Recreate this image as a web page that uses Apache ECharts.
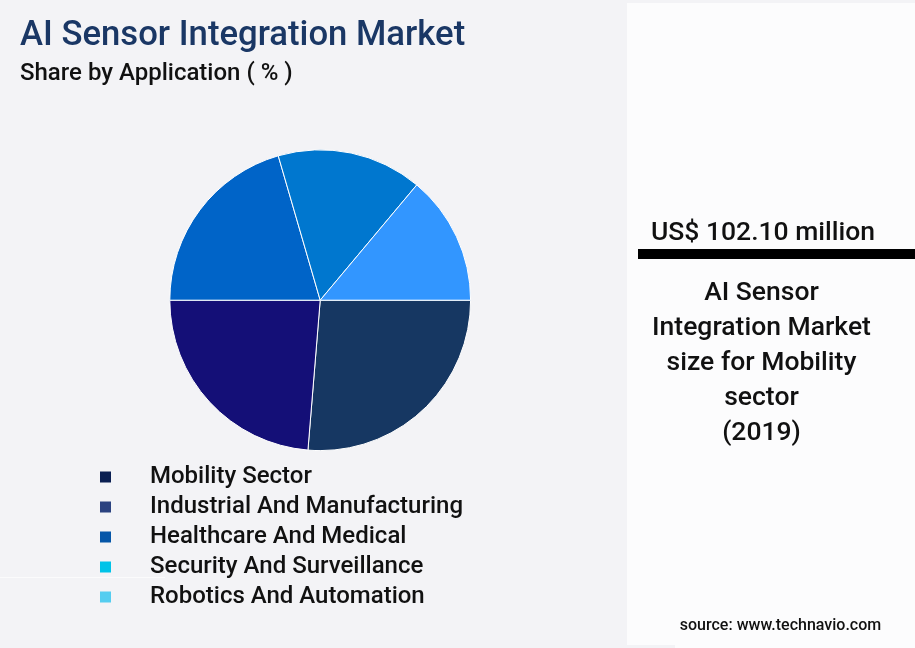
<!DOCTYPE html>
<html>
<head>
<meta charset="utf-8">
<title>AI Sensor Integration Market</title>
<style>
html,body{margin:0;padding:0;background:#f3f3f6;}
#chart{width:915px;height:648px;}
</style>
<script src="https://cdn.jsdelivr.net/npm/echarts@6/dist/echarts.min.js"></script>
</head>
<body>
<div id="chart"></div>
<script>
var categories=['Mobility Sector','Industrial And Manufacturing','Healthcare And Medical','Security And Surveillance','Robotics And Automation'];
var shares=[26.3,23.7,20.5,15.6,13.9];
//the slices and the legend squares do not use the same colours in the picture
var sliceColors=['#163762','#140f77','#0064c8','#0077cf','#3296ff'];
var legendColors=['#0a1f52','#2b4280','#0556a8','#00c3e8','#55cdf0'];
var panelLines=['AI Sensor','Integration Market','size for Mobility','sector','(2019)'];

var font='Roboto';
var chart=echarts.init(document.getElementById('chart'));

var pieData=[];
var legendData=[];
for(var i=0;i<categories.length;i++){
	pieData.push({name:categories[i],value:shares[i],itemStyle:{color:sliceColors[i]}});
	legendData.push({name:categories[i],itemStyle:{color:legendColors[i],borderWidth:0}});
}

//right hand panel
var graphics=[
	{type:'rect',z:0,shape:{x:627,y:3,width:288,height:645},style:{fill:'#fcfcfd'}},
	{type:'rect',z:0,shape:{x:627,y:645,width:48,height:3},style:{fill:'#f3f3f6'}},
	{type:'rect',z:1,shape:{x:638,y:249,width:277,height:10},style:{fill:'#000000'}},
	{type:'rect',z:1,shape:{x:0,y:577,width:165,height:1},style:{fill:'#fbfbfc'}},
	{type:'text',z:2,x:763,y:233,style:{text:'US$ 102.10 million',font:'500 26.5px '+font,fill:'#111111',textAlign:'center',textVerticalAlign:'middle'}},
	{type:'text',z:2,x:780.5,y:626,style:{text:'source: www.technavio.com',font:'500 16px '+font,fill:'#111111',textAlign:'center',textVerticalAlign:'middle'}}
];
for(var j=0;j<panelLines.length;j++){
	graphics.push({type:'text',z:2,x:761.5,y:293+35*j,style:{text:panelLines[j],font:'500 26.5px '+font,fill:'#111111',textAlign:'center',textVerticalAlign:'middle'}});
}

var option={
	backgroundColor:'#f3f3f6',
	animation:false,
	title:[
		{text:'AI Sensor Integration Market',left:20,top:19,padding:0,textStyle:{fontFamily:font,fontSize:34.7,fontWeight:500,color:'#1a3765'}},
		{text:'Share by Application ( % )',left:20,top:62,padding:0,textStyle:{fontFamily:font,fontSize:24,fontWeight:500,color:'#111111'}}
	],
	legend:{
		orient:'vertical',
		left:100,
		top:463,
		padding:0,
		icon:'rect',
		itemWidth:11,
		itemHeight:11,
		itemGap:2,
		selectedMode:false,
		data:legendData,
		textStyle:{fontFamily:font,fontSize:24,fontWeight:500,color:'#111111',padding:[0,0,0,34],lineHeight:28,height:28}
	},
	series:[{
		type:'pie',
		center:[320.2,300.2],
		radius:[0,150.4],
		startAngle:0,
		clockwise:true,
		label:{show:false},
		labelLine:{show:false},
		itemStyle:{borderColor:'#ffffff',borderWidth:1},
		data:pieData
	}],
	graphic:graphics
};
chart.setOption(option);
</script>
</body>
</html>
